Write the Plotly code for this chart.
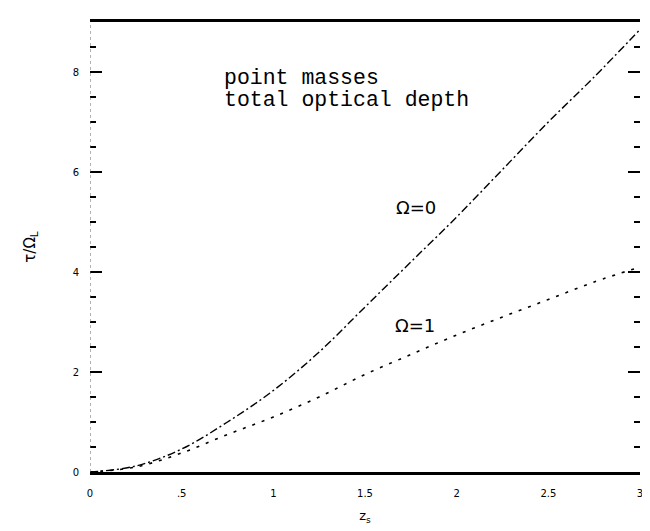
import plotly.graph_objects as go

z_s = [0, 0.25, 0.5, 0.75, 1.0, 1.25, 1.5, 1.75, 2.0, 2.25, 2.5, 2.75, 3.0]
tau_omega0 = [0, 0.12, 0.46, 1.0, 1.63, 2.4, 3.3, 4.2, 5.1, 6.05, 7.0, 7.9, 8.85]
tau_omega1 = [0, 0.10, 0.38, 0.75, 1.1, 1.5, 1.95, 2.35, 2.74, 3.1, 3.45, 3.8, 4.1]

x_tickvals = [0, 0.5, 1, 1.5, 2, 2.5, 3]
x_ticktext = ["0", ".5", "1", "1.5", "2", "2.5", "3"]
y_tickvals = [0, 2, 4, 6, 8]
y_ticktext = ["0", "2", "4", "6", "8"]

fig = go.Figure()
fig.add_trace(go.Scatter(x=z_s, y=tau_omega0, mode="lines",
                         line=dict(color="black", width=1.4, dash="8px,3px,2px,3px", shape="spline"),
                         showlegend=False))
fig.add_trace(go.Scatter(x=z_s, y=tau_omega1, mode="lines",
                         line=dict(color="black", width=1.6, dash="3px,7px", shape="spline"),
                         showlegend=False))

mono = dict(family="Liberation Mono", size=21.5, color="black")
fig.add_annotation(x=0.72, y=7.88, xref="x", yref="y", text="point masses", showarrow=False,
                   xanchor="left", yanchor="middle", font=mono)
fig.add_annotation(x=0.72, y=7.44, xref="x", yref="y", text="total optical depth", showarrow=False,
                   xanchor="left", yanchor="middle", font=mono)
fig.add_annotation(x=1.66, y=5.3, xref="x", yref="y", text="Ω=0", showarrow=False,
                   xanchor="left", yanchor="middle", font=dict(family="DejaVu Sans", size=18, color="black"))
fig.add_annotation(x=1.65, y=2.94, xref="x", yref="y", text="Ω=1", showarrow=False,
                   xanchor="left", yanchor="middle", font=dict(family="DejaVu Sans", size=18, color="black"))

fig.add_shape(type="line", xref="x", yref="y", x0=0, x1=0, y0=0, y1=9,
              line=dict(color="#666", width=1, dash="dot"))

fig.update_layout(
    width=650, height=531,
    margin=dict(l=82, r=18, t=14, b=67),
    paper_bgcolor="white", plot_bgcolor="white",
    font=dict(family="DejaVu Sans", color="black"),
    xaxis=dict(range=[0, 3], tickvals=x_tickvals, ticktext=x_ticktext, showgrid=False, zeroline=False,
               showline=True, linecolor="black", linewidth=2.5, mirror=True, ticks="",
               ticklabelstandoff=10, automargin=False,
               tickfont=dict(size=10), title=dict(text="z<sub>s</sub>", font=dict(size=13), standoff=14)),
    yaxis=dict(range=[0, 9], tickvals=y_tickvals, ticktext=y_ticktext, showgrid=False, zeroline=False,
               showline=False, ticks="inside", ticklen=12, tickwidth=2, tickcolor="black", mirror="allticks",
               minor=dict(dtick=0.5, ticks="inside", ticklen=6, tickwidth=2, tickcolor="black"),
               tickfont=dict(size=10), ticklabelstandoff=10, automargin=False,
               title=dict(text="τ/Ω<sub>L</sub>", font=dict(size=15), standoff=33)),
)

fig.write_html("out.html")
